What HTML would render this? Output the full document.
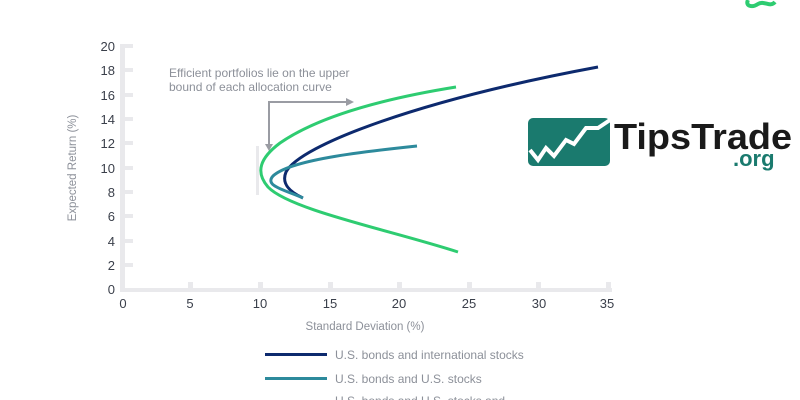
<!DOCTYPE html>
<html><head><style>
html,body{margin:0;padding:0;background:#fff;}
body{width:800px;height:400px;overflow:hidden;position:relative;font-family:"Liberation Sans",sans-serif;}
</style></head><body>
<svg width="800" height="400" viewBox="0 0 800 400" xmlns="http://www.w3.org/2000/svg" style="position:absolute;left:0;top:0">
<g fill="#e9e9ec">
<rect x="120" y="44" width="5" height="248"/>
<rect x="120" y="288" width="492" height="4"/>
<rect x="125" y="44" width="8" height="4"/>
<rect x="125" y="68" width="8" height="4"/>
<rect x="125" y="93" width="8" height="4"/>
<rect x="125" y="117" width="8" height="4"/>
<rect x="125" y="141" width="8" height="4"/>
<rect x="125" y="166" width="8" height="4"/>
<rect x="125" y="190" width="8" height="4"/>
<rect x="125" y="214" width="8" height="4"/>
<rect x="125" y="239" width="8" height="4"/>
<rect x="125" y="263" width="8" height="4"/>
<rect x="188" y="282" width="5" height="7"/>
<rect x="258" y="282" width="5" height="7"/>
<rect x="328" y="282" width="5" height="7"/>
<rect x="397" y="282" width="5" height="7"/>
<rect x="467" y="282" width="5" height="7"/>
<rect x="536" y="282" width="5" height="7"/>
<rect x="606" y="282" width="5" height="7"/>
<rect x="256" y="146" width="3" height="49"/>
</g>
<g font-size="13" fill="#3a3f4a" text-anchor="end">
<text x="115" y="51">20</text><text x="115" y="75">18</text><text x="115" y="100">16</text>
<text x="115" y="124">14</text><text x="115" y="148">12</text><text x="115" y="173">10</text>
<text x="115" y="197">8</text><text x="115" y="221">6</text><text x="115" y="246">4</text>
<text x="115" y="270">2</text><text x="115" y="294">0</text>
</g>
<g font-size="13" fill="#3a3f4a" text-anchor="middle">
<text x="123" y="308">0</text><text x="190" y="308">5</text><text x="260" y="308">10</text>
<text x="330" y="308">15</text><text x="399" y="308">20</text><text x="469" y="308">25</text>
<text x="539" y="308">30</text><text x="607" y="308">35</text>
</g>
<text x="365" y="330" font-size="11.5" fill="#8c9099" text-anchor="middle">Standard Deviation (%)</text>
<text transform="translate(76,168) rotate(-90)" font-size="11.5" fill="#8c9099" text-anchor="middle">Expected Return (%)</text>
<text x="169" y="77" font-size="12" fill="#8c9099">Efficient portfolios lie on the upper</text>
<text x="169" y="91" font-size="12" fill="#8c9099">bound of each allocation curve</text>
<g stroke="#9a9ca3" stroke-width="2" fill="none">
<path d="M352 102 L269 102 L269 146"/>
</g>
<polygon points="346,98 354,102 346,106" fill="#9a9ca3"/>
<polygon points="265,144 269,151 273,144" fill="#9a9ca3"/>
<path d="M458 252 C390 230 290 210 268 187 C255 172 260 158 280 143 C325 112 400 96 456 87" stroke="#2ecc71" stroke-width="3" fill="none"/>
<path d="M303 198 C290 192 281 184 286 172 C300 145 420 100 598 67" stroke="#0d2a6e" stroke-width="3" fill="none"/>
<path d="M303 198 C285 190 264 186 273 176 C290 160 360 152 417 146" stroke="#2d8a9c" stroke-width="3" fill="none"/>
<rect x="265" y="353" width="62" height="3" fill="#0d2a6e"/>
<text x="335" y="359" font-size="12" fill="#8c9099">U.S. bonds and international stocks</text>
<rect x="265" y="377" width="62" height="3" fill="#2d8a9c"/>
<text x="335" y="383" font-size="12" fill="#8c9099">U.S. bonds and U.S. stocks</text>
<text x="335" y="405" font-size="12" fill="#8c9099">U.S. bonds and U.S. stocks and</text>
<path d="M748 0 C745 6 752 8 758 4 C764 0 770 8 775 2" stroke="#2ecc71" stroke-width="4" fill="none"/>
<rect x="528" y="118" width="82" height="48" rx="5" fill="#1a7a6e"/>
<path d="M530 150 L538 160 L546 148 L554 156 L566 140 L574 144 L586 128 L598 128 L610 120" stroke="#fff" stroke-width="4" fill="none"/>
<text x="614" y="149" font-size="36" font-weight="bold" fill="#1a1a1a" textLength="178" lengthAdjust="spacingAndGlyphs">TipsTrade</text>
<text x="733" y="166" font-size="22" font-weight="bold" fill="#1a7a6e">.org</text>
</svg>
</body></html>
